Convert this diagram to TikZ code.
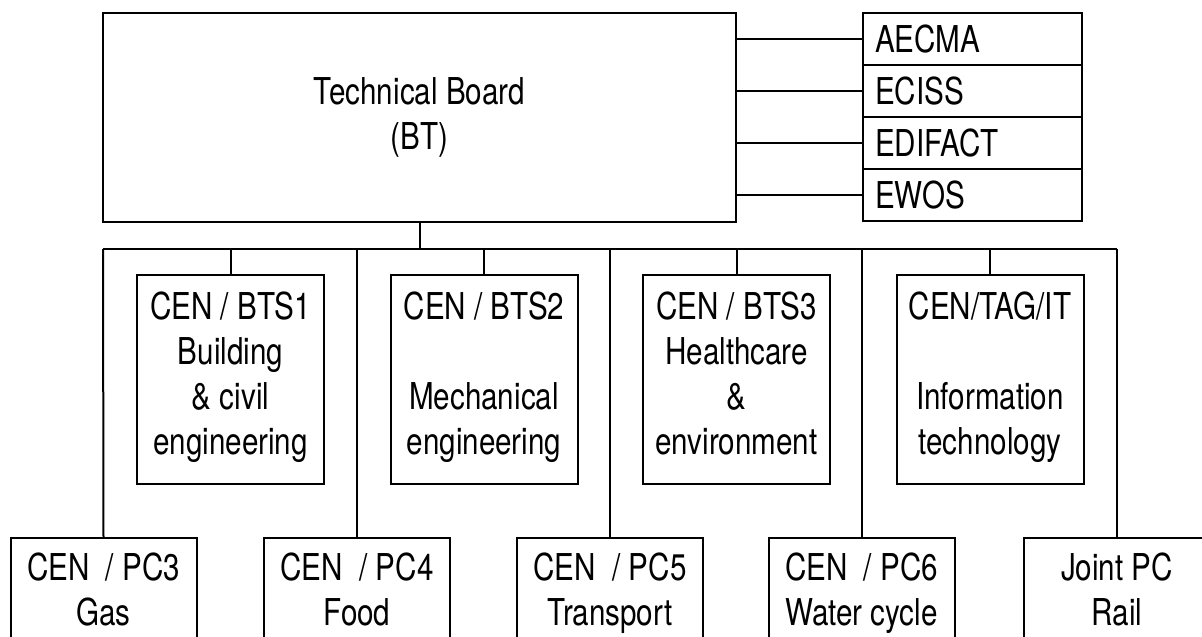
\documentclass[tikz,border=0pt]{standalone}
\usepackage{fontspec}
\setmainfont{TeX Gyre Heros}[FakeStretch=0.8]
\usetikzlibrary{positioning}

\begin{document}
\begin{tikzpicture}[x=0.5pt,y=0.5pt,yscale=-1,xscale=1,
  line width=1pt,
  every node/.style={font=\fontsize{18.5}{22.5}\selectfont},
  board/.style={draw,align=center,minimum width=316.5pt,minimum height=104.5pt},
  liaison/.style={draw,align=left,inner xsep=6pt,inner ysep=0pt,text width=97.5pt,minimum height=26pt},
  sector/.style={draw,align=center,inner sep=0pt,minimum width=93.5pt,minimum height=104.5pt,
    execute at begin node=\strut,execute at end node=\strut},
  pcbox/.style={draw,align=center,inner sep=0pt,minimum width=93pt,minimum height=58pt,anchor=north,
    execute at begin node=\strut,execute at end node=\strut}]
\useasboundingbox (0,0) rectangle (1202,636);
\clip (0,0) rectangle (1202,636);

\node [board] (bt) at (419.5,117.5) {Technical Board\\(BT)};

\node [liaison] (aecma) at (972.5,39) {AECMA};
\node [liaison] (eciss) at (972.5,91) {ECISS};
\node [liaison] (edifact) at (972.5,143) {EDIFACT};
\node [liaison] (ewos) at (972.5,195) {EWOS};

\draw (bt.east |- aecma) -- (aecma.west) ;
\draw (bt.east |- eciss) -- (eciss.west) ;
\draw (bt.east |- edifact) -- (edifact.west) ;
\draw (bt.east |- ewos) -- (ewos.west) ;

\coordinate (busL) at (103,249);
\coordinate (busR) at (1117,249);
\draw (bt.south) -- (bt.south |- busL) ;
\draw (busL) -- (busR) ;

\node [sector] (bts1) at (230.5,379.5) {CEN / BTS1\\Building\\\& civil\\engineering};
\node [sector] (bts2) at (484,379.5) {CEN / BTS2\\\mbox{}\\Mechanical\\engineering};
\node [sector] (bts3) at (736.5,379.5) {CEN / BTS3\\Healthcare\\\&\\environment};
\node [sector] (tagit) at (990,379.5) {CEN/TAG/IT\\\mbox{}\\Information\\technology};

\draw (bts1.north |- busL) -- (bts1.north) ;
\draw (bts2.north |- busL) -- (bts2.north) ;
\draw (bts3.north |- busL) -- (bts3.north) ;
\draw (tagit.north |- busL) -- (tagit.north) ;

\node [pcbox] (pc3) at (103.5,537) {CEN~~/ PC3\\Gas};
\node [pcbox] (pc4) at (357,537) {CEN~~/ PC4\\Food};
\node [pcbox] (pc5) at (610,537) {CEN~~/ PC5\\Transport};
\node [pcbox] (pc6) at (861.5,537) {CEN~~/ PC6\\Water cycle};
\node [pcbox] (jointpc) at (1117,537) {Joint PC\\Rail};

\draw (busL) -- (pc3.north) ;
\draw (pc4.north |- busL) -- (pc4.north) ;
\draw (pc5.north |- busL) -- (pc5.north) ;
\draw (pc6.north |- busL) -- (pc6.north) ;
\draw (busR) -- (jointpc.north) ;

\end{tikzpicture}
\end{document}
